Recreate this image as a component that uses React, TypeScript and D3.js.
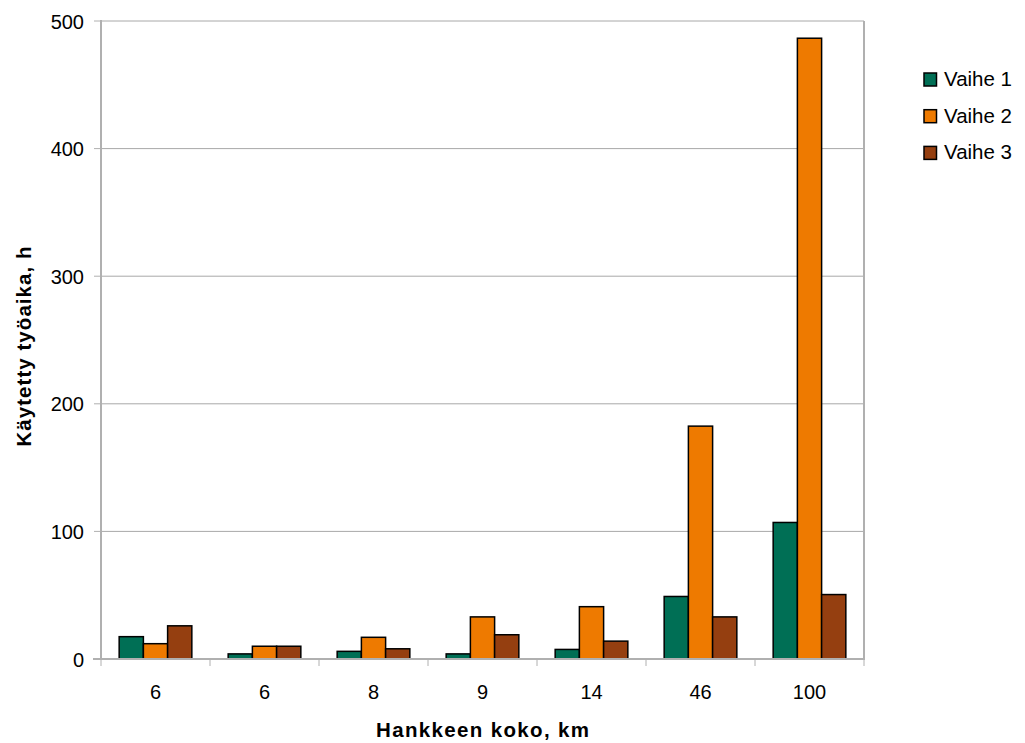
import React from "react";
import * as d3 from "d3";

// Hours spent per project phase, by project length (km)
const categories = ["6", "6", "8", "9", "14", "46", "100"];
const seriesNames = ["Vaihe 1", "Vaihe 2", "Vaihe 3"];
const vaihe1 = [17.5, 4, 6, 4, 7.5, 49, 107];
const vaihe2 = [12, 10, 17, 33, 41, 182.5, 486.5];
const vaihe3 = [26, 10, 8, 19, 14, 33, 50.5];
const yTicks = [0, 100, 200, 300, 400, 500];

const colors = ["#006f55", "#ee7a00", "#953f10"];

const W = 1025;
const H = 743;
const plot = { left: 101, right: 864, top: 21, bottom: 659 };
const FONT = "'Liberation Sans', Arial, sans-serif";

export default function App() {
  const series = [vaihe1, vaihe2, vaihe3];
  const idx = categories.map((_, i) => String(i));

  const x0 = d3.scaleBand<string>().domain(idx).range([plot.left, plot.right]).padding(0);
  const x1 = d3
    .scaleBand<string>()
    .domain(seriesNames)
    .range([0, x0.bandwidth()])
    .paddingInner(0)
    .paddingOuter(0.75);
  const y = d3.scaleLinear().domain([0, 500]).range([plot.bottom, plot.top]);

  const boundaries = idx.map((k) => x0(k) as number).concat([plot.right]);

  return (
    <svg
      width={W}
      height={H}
      style={{ position: "absolute", left: 0, top: 0, background: "#fff" }}
      fontFamily={FONT}
    >
      {/* horizontal gridlines */}
      {yTicks.map((t) => (
        <line
          key={"g" + t}
          x1={plot.left}
          x2={plot.right}
          y1={y(t)}
          y2={y(t)}
          stroke="#a8a8a8"
          strokeWidth={1}
        />
      ))}
      {/* right border */}
      <line x1={plot.right} x2={plot.right} y1={plot.top} y2={plot.bottom} stroke="#b0b0b0" strokeWidth={2} />

      {/* bars */}
      {series.map((vals, s) =>
        vals.map((v, i) => (
          <rect
            key={`b${s}-${i}`}
            x={(x0(String(i)) as number) + (x1(seriesNames[s]) as number)}
            y={y(v)}
            width={x1.bandwidth()}
            height={plot.bottom - y(v)}
            fill={colors[s]}
            stroke="#000"
            strokeWidth={1.5}
          />
        ))
      )}

      {/* axes */}
      <line x1={plot.left} x2={plot.left} y1={plot.top - 1} y2={plot.bottom} stroke="#b0b0b0" strokeWidth={2} />
      <line x1={plot.left - 8} x2={plot.right + 1} y1={plot.bottom} y2={plot.bottom} stroke="#b0b0b0" strokeWidth={2} />
      {yTicks.map((t) => (
        <g key={"yt" + t}>
          <line x1={plot.left - 7} x2={plot.left} y1={y(t)} y2={y(t)} stroke="#b0b0b0" strokeWidth={1} />
          <text x={84} y={y(t) + 7.5} textAnchor="end" fontSize={20} fill="#000">
            {t}
          </text>
        </g>
      ))}
      {boundaries.map((b, i) => (
        <line key={"xt" + i} x1={b} x2={b} y1={plot.bottom} y2={plot.bottom + 7} stroke="#b0b0b0" strokeWidth={1} />
      ))}
      {categories.map((c, i) => (
        <text
          key={"xl" + i}
          x={(x0(String(i)) as number) + x0.bandwidth() / 2}
          y={699}
          textAnchor="middle"
          fontSize={20}
          fill="#000"
        >
          {c}
        </text>
      ))}

      {/* axis titles */}
      <text
        x={(plot.left + plot.right) / 2}
        y={737}
        textAnchor="middle"
        fontSize={20.5}
        fontWeight="bold"
        textLength={213}
        lengthAdjust="spacing"
      >
        Hankkeen koko, km
      </text>
      <text
        transform={`translate(31,${346.5}) rotate(-90)`}
        textAnchor="middle"
        fontSize={20.5}
        fontWeight="bold"
        textLength={200}
        lengthAdjust="spacing"
      >
        Käytetty työaika, h
      </text>

      {/* legend */}
      {seriesNames.map((n, s) => (
        <g key={"lg" + n} transform={`translate(924,${73 + s * 36.7})`}>
          <rect x={0} y={0} width={12.5} height={13} fill={colors[s]} stroke="#000" strokeWidth={1.5} />
          <text x={20} y={13} fontSize={20.5} fill="#000">
            {n}
          </text>
        </g>
      ))}
    </svg>
  );
}
